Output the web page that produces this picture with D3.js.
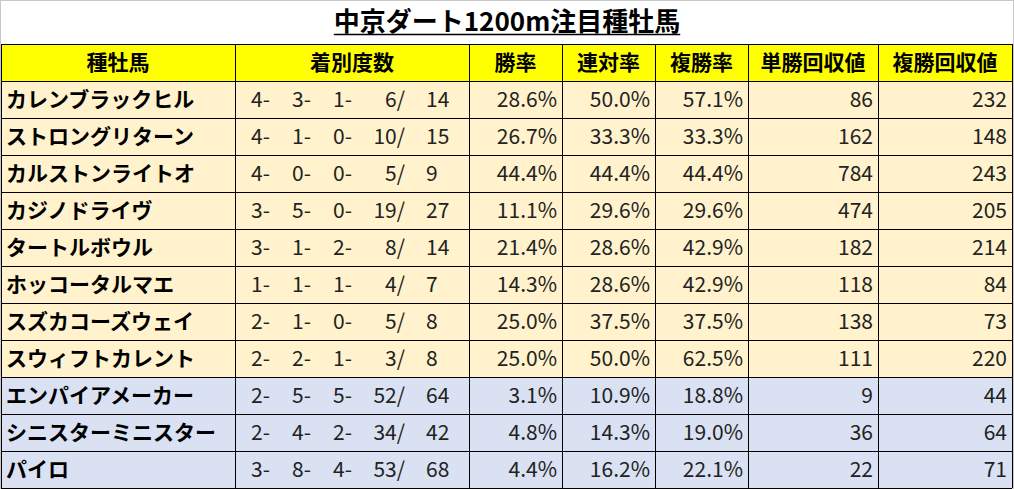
<!DOCTYPE html>
<html><head><meta charset="utf-8">
<script src="https://cdn.jsdelivr.net/npm/d3@7"></script>
<style>body{margin:0;background:#fff}svg{display:block}text{font-family:"Noto Sans CJK JP","Noto Sans",sans-serif}</style>
</head><body><svg id="c" width="1014" height="489"></svg>
<script>
const title = "中京ダート1200m注目種牡馬";
const headers = ["種牡馬","着別度数","勝率","連対率","複勝率","単勝回収値","複勝回収値"];
const sires = ["カレンブラックヒル","ストロングリターン","カルストンライトオ","カジノドライヴ","タートルボウル","ホッコータルマエ","スズカコーズウェイ","スウィフトカレント","エンパイアメーカー","シニスターミニスター","パイロ"];
const records = [[4,3,1,6,14],[4,1,0,10,15],[4,0,0,5,9],[3,5,0,19,27],[3,1,2,8,14],[1,1,1,4,7],[2,1,0,5,8],[2,2,1,3,8],[2,5,5,52,64],[2,4,2,34,42],[3,8,4,53,68]];
const winRate = [28.6,26.7,44.4,11.1,21.4,14.3,25.0,25.0,3.1,4.8,4.4];
const quinellaRate = [50.0,33.3,44.4,29.6,28.6,28.6,37.5,50.0,10.9,14.3,16.2];
const showRate = [57.1,33.3,44.4,29.6,42.9,42.9,37.5,62.5,18.8,19.0,22.1];
const winReturn = [86,162,784,474,182,118,138,111,9,36,22];
const showReturn = [232,148,243,205,214,84,73,220,44,64,71];
const groups = ["a","a","a","a","a","a","a","a","b","b","b"];

const svg = d3.select("#c");
svg.append("rect").attr("x",0.5).attr("y",0.5).attr("width",1013).attr("height",488).attr("fill","none").attr("stroke","#c8c8c8");
const colEdges = [1,235,469,562,655,748,878,1012];
const y = d3.scaleBand().domain(d3.range(-1, sires.length)).range([44,488]);
const fill = {a:"#FFF2CC", b:"#D9E1F2"};

// title
const t = svg.append("text").attr("x",507).attr("y",31).attr("text-anchor","middle")
  .attr("font-size",26).attr("font-weight","bold").text(title);
const bb = t.node().getBBox();
svg.append("line").attr("x1",bb.x).attr("x2",bb.x+bb.width).attr("y1",34.5).attr("y2",34.5).attr("stroke","#000").attr("stroke-width",1.5);

// header
svg.append("rect").attr("x",colEdges[0]).attr("y",y(-1)).attr("width",colEdges[7]-colEdges[0]).attr("height",y.bandwidth()).attr("fill","#FFFF00");
headers.forEach((h,i)=>{
  svg.append("text").attr("x",(colEdges[i]+colEdges[i+1])/2).attr("y",y(-1)+y.bandwidth()/2+7.5)
   .attr("text-anchor","middle").attr("font-size",21).attr("font-weight","bold").text(h);
});
const fmtRec = r => r.slice(0,4).map(v=>String(v).padStart(2,"\u2007")).join("-")+"/"+String(r[4]).padStart(3,"\u2007");
sires.forEach((s,i)=>{
  const yy=y(i), cy=yy+y.bandwidth()/2+7.5;
  svg.append("rect").attr("x",colEdges[0]).attr("y",yy).attr("width",colEdges[7]-colEdges[0]).attr("height",y.bandwidth()).attr("fill",fill[groups[i]]);
  svg.append("text").attr("x",6).attr("y",cy).attr("font-size",21).attr("font-weight","bold").text(s);
  const r=records[i];
  const parts = r.slice(0,4).map(v=>v+"-").concat([r[3]+"/"]);
  // record text: draw each piece right-aligned at fixed stops
  const stops=[270,311,352,405,426];
  const pieces=[r[0]+"-",r[1]+"-",r[2]+"-",r[3]+"/",String(r[4])];
  pieces.forEach((p,k)=>{
    svg.append("text").attr("x", k<4?stops[k]:stops[4]).attr("y",cy).attr("font-size",21)
      .attr("text-anchor",k<4?"end":"start").attr("fill","#222").text(p);
  });
  const vals=[winRate[i].toFixed(1)+"%",quinellaRate[i].toFixed(1)+"%",showRate[i].toFixed(1)+"%",winReturn[i],showReturn[i]];
  vals.forEach((v,k)=>{
    svg.append("text").attr("x",colEdges[k+3]-5).attr("y",cy).attr("text-anchor","end").attr("font-size",21).attr("fill","#222").text(v);
  });
});
// grid
const g=svg.append("g").attr("stroke","#000").attr("stroke-width",1);
d3.range(-1,sires.length+1).forEach(i=>{
  const yy = i<sires.length? y(i): 488;
  g.append("line").attr("x1",colEdges[0]).attr("x2",colEdges[7]).attr("y1",Math.round(yy)+0.5).attr("y2",Math.round(yy)+0.5);
});
colEdges.forEach(x=>g.append("line").attr("x1",x+0.5).attr("x2",x+0.5).attr("y1",y(-1)).attr("y2",488));
</script></body></html>
